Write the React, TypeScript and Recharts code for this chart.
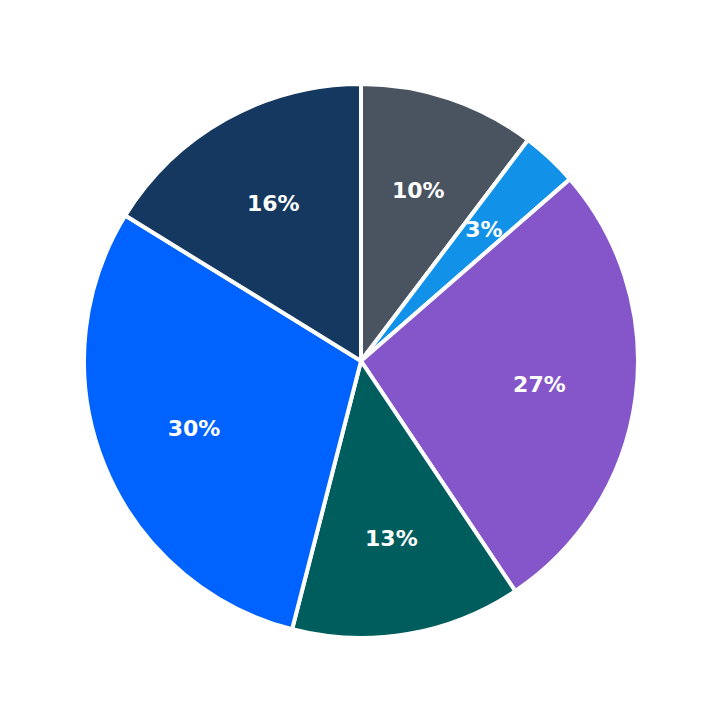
import { PieChart, Pie, Cell } from 'recharts';

const categories = ['A', 'B', 'C', 'D', 'E', 'F'];
const shares = [10.3, 3.3, 27.0, 13.4, 29.8, 16.2];
const colors = ['#4a5360', '#1192e8', '#8556c9', '#005d5d', '#0062ff', '#143860'];

const data = categories.map((name, i) => ({ name, value: shares[i] }));

const RADIAN = Math.PI / 180;

const renderLabel = (props: any) => {
  const { cx, cy, midAngle, percent } = props;
  const r = 180;
  const x = cx + r * Math.cos(-midAngle * RADIAN);
  const y = cy + r * Math.sin(-midAngle * RADIAN);
  return (
    <text
      x={x}
      y={y}
      fill="#fff"
      textAnchor="middle"
      dominantBaseline="central"
      fontFamily="DejaVu Sans"
      fontWeight="bold"
      fontSize={22}
    >
      {`${Math.round(percent * 100)}%`}
    </text>
  );
};

export default function App() {
  return (
    <div style={{ position: 'fixed', top: 0, left: 0, width: 723, height: 723, background: '#fff' }}>
      <PieChart width={723} height={723} margin={{ top: 0, right: 0, bottom: 0, left: 0 }}>
        <Pie
          data={data}
          dataKey="value"
          cx={361}
          cy={361}
          outerRadius={277}
          startAngle={90}
          endAngle={-270}
          stroke="#fff"
          strokeWidth={4}
          label={renderLabel}
          labelLine={false}
          isAnimationActive={false}
        >
          {data.map((d, i) => (
            <Cell key={d.name} fill={colors[i]} />
          ))}
        </Pie>
      </PieChart>
    </div>
  );
}
